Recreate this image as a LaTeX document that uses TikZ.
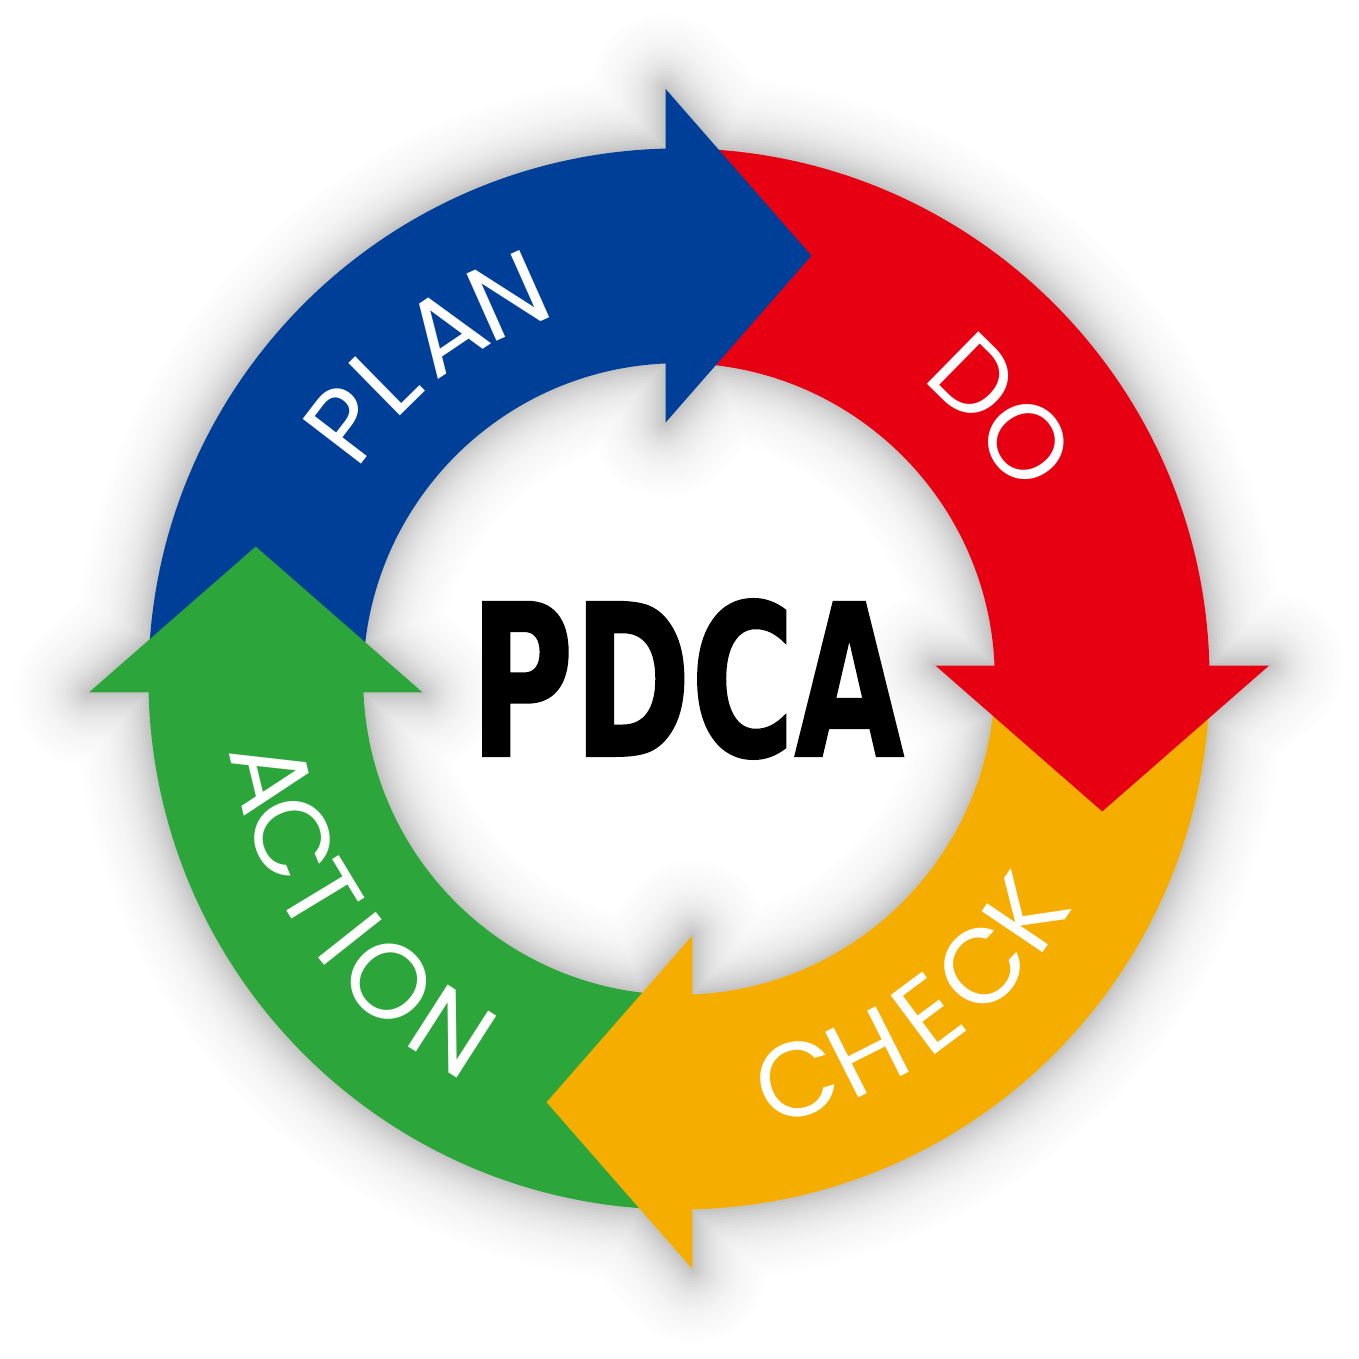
\documentclass[tikz,border=0pt]{standalone}
\usepackage{fontspec}
\newfontfamily\labelfont{Poppins}
\newfontfamily\pdcafont{DejaVu Sans Bold}[FakeBold=1.2]
\definecolor{pblue}{RGB}{0,63,152}
\definecolor{pred}{RGB}{230,0,18}
\definecolor{pyellow}{RGB}{245,173,0}
\definecolor{pgreen}{RGB}{44,166,58}
\tikzset{
  ringlabel/.style={text=white, font=\labelfont\fontsize{30}{30}\selectfont, inner sep=0pt, anchor=center},
  bodyseg/.style={draw=none},
  headseg/.style={draw=none},
  glow/.style={draw=black, line join=round},
}
\def\unionpath{(0,0) circle[radius=530.9] (0,0) circle[radius=316]
  (-13.5,256.5) -- (-13.5,590.5) -- (132.5,423.5) -- cycle
  (256.5,13.5) -- (590.5,13.5) -- (423.5,-132.5) -- cycle
  (13.5,-256.5) -- (13.5,-590.5) -- (-132.5,-423.5) -- cycle
  (-256.5,-13.5) -- (-590.5,-13.5) -- (-423.5,132.5) -- cycle}
\begin{document}
\begin{tikzpicture}
\useasboundingbox[fill=white] (0,0) rectangle (13.59,13.59);
\begin{scope}[shift={(6.79cm,6.80cm)}, x=0.01cm, y=0.01cm]
  % soft shadow around the whole figure
  \foreach \i in {1,...,40}{
    \pgfmathsetmacro\dd{3*\i-1.5}
    \pgfmathsetmacro\al{3*(0.22/28*exp(0-\dd/28)+0.03/70*exp(0-\dd/70))}
    \pgfmathsetmacro\lw{0.06*\i}
    \path[glow, line width=\lw cm, draw opacity=\al] \unionpath;
  }
  % bodies
  \foreach \rot/\col in {0/pblue, -90/pred, -180/pyellow, -270/pgreen}{
    \begin{scope}[rotate=\rot]
      \path[bodyseg, fill=\col] (181.133:530.9) arc[start angle=181.133, end angle=91.133, radius=530.9]
        -- (91.904:316) arc[start angle=91.904, end angle=181.904, radius=316] -- cycle;
    \end{scope}
  }
  % heads
  \foreach \rot/\col in {0/pblue, -90/pred, -180/pyellow, -270/pgreen}{
    \begin{scope}[rotate=\rot]
      \path[headseg, fill=\col] (-13.5,256.5) -- (-13.5,590.5) -- (132.5,423.5) -- cycle;
    \end{scope}
  }
  % labels
  \foreach \ch/\ang [count=\k] in {P/142.5, L/134.5, A/124, N/114}
    \node[ringlabel, rotate=\ang-90] (plan\k) at (\ang:420) {\ch};
  \foreach \ch/\ang [count=\k] in {D/45.5, O/34.3}
    \node[ringlabel, rotate=\ang-90] (do\k) at (\ang:421) {\ch};
  \foreach \ch/\ang [count=\k] in {C/-73.6, H/-63.2, E/-53.3, C/-43.6, K/-34.0}
    \node[ringlabel, rotate=\ang+90] (check\k) at (\ang:418) {\ch};
  \foreach \ch/\ang [count=\k] in {A/193.5, C/202.4, T/211.2, I/218.4, O/226.2, N/237.3}
    \node[ringlabel, rotate=\ang+90] (action\k) at (\ang:419) {\ch};
  \node[inner sep=0pt, font=\pdcafont\fontsize{60}{60}\selectfont] (pdca) at (8,0) {\scalebox{0.67}[1]{PDCA}};
\end{scope}
\end{tikzpicture}
\end{document}
